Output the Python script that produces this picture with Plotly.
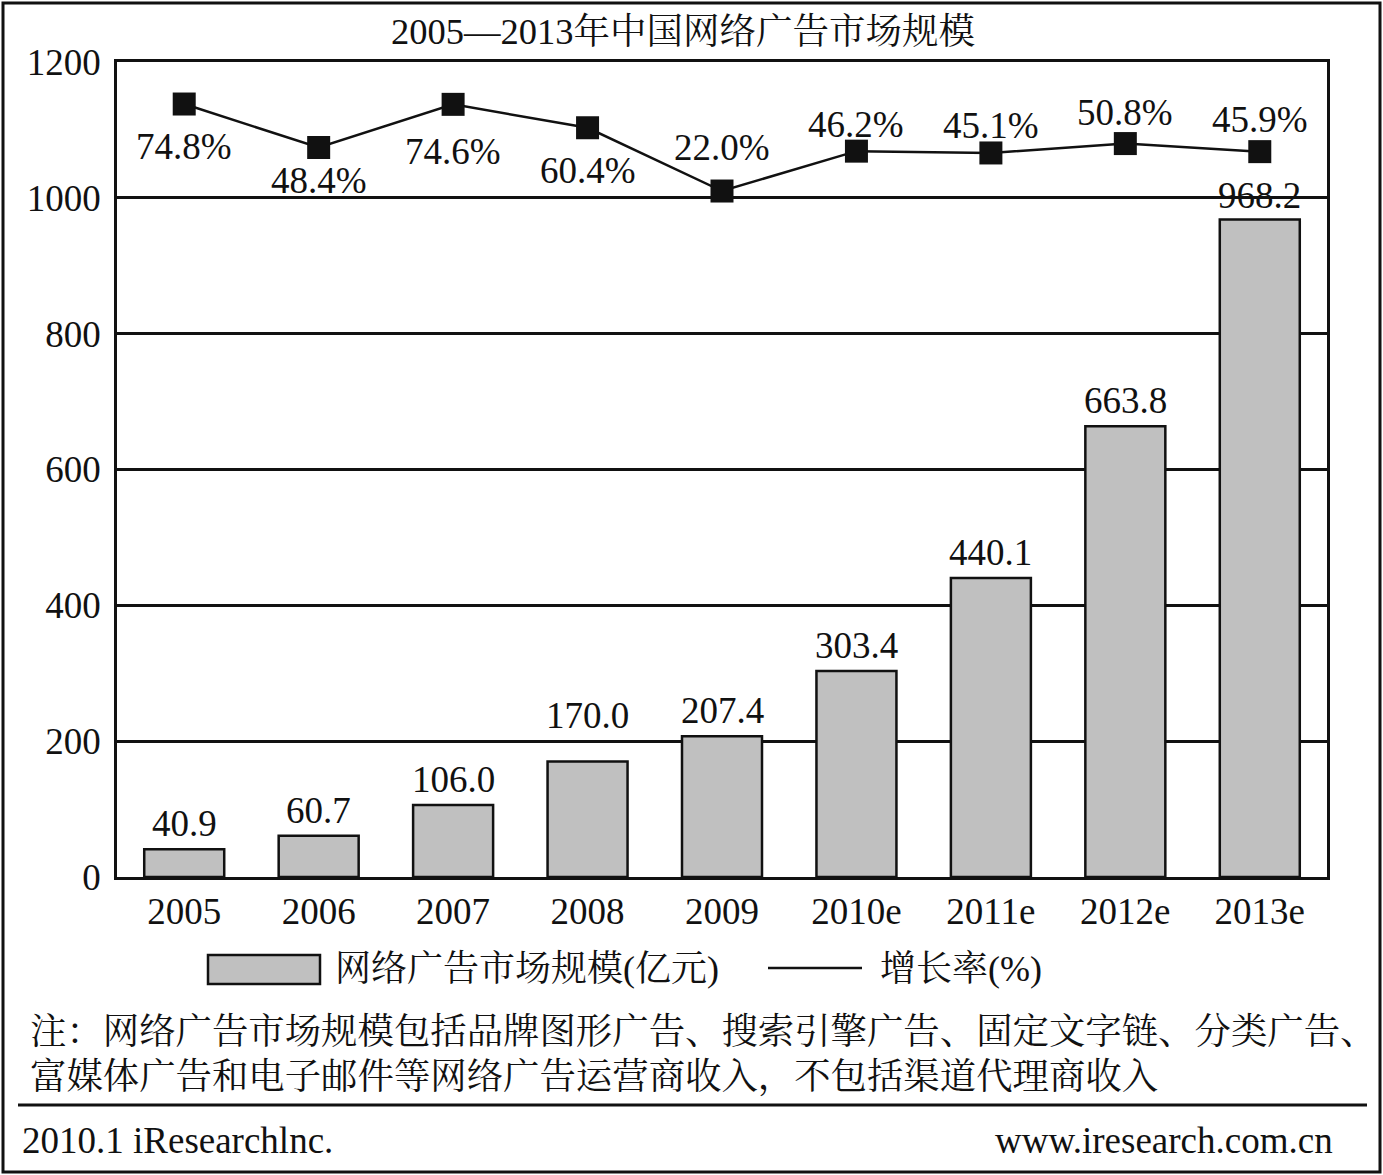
import plotly.graph_objects as go

# ---- data ----
categories = ["2005", "2006", "2007", "2008", "2009", "2010e", "2011e", "2012e", "2013e"]
market_size = [40.9, 60.7, 106.0, 170.0, 207.4, 303.4, 440.1, 663.8, 968.2]
growth_rate = [74.8, 48.4, 74.6, 60.4, 22.0, 46.2, 45.1, 50.8, 45.9]
y_ticks = [0, 200, 400, 600, 800, 1000, 1200]

# label offsets in pixels (positive = below the point for growth labels, above the bar for bar labels)
growth_label_dy = [42, 33, 47, 43, -44, -27, -27, -31, -32]
bar_label_dy = [3, 3, 3, 24, 3, 3, 3, 3, 1]

title_text = "2005—2013年中国网络广告市场规模"
legend_bar = "网络广告市场规模(亿元)"
legend_line = "增长率(%)"
note_lines = ["注：网络广告市场规模包括品牌图形广告、搜索引擎广告、固定文字链、分类广告、",
              "富媒体广告和电子邮件等网络广告运营商收入，不包括渠道代理商收入"]
footer_left = "2010.1 iResearchlnc."
footer_right = "www.iresearch.com.cn"

# ---- layout geometry (pixels) ----
W, H = 1383, 1175
L, R, T, B = 117, 1327, 62, 877
FONT = "Liberation Serif, 'Noto Serif CJK SC', 'Noto Sans CJK SC', serif"
FS = 37
INK = "#111111"


def px(X):
    return (X - L) / (R - L)


def py(Y):
    return (B - Y) / (B - T)


fig = go.Figure()
fig.add_trace(go.Bar(
    x=categories, y=market_size,
    marker=dict(color="#c0c0c0", line=dict(color=INK, width=2.5)),
    showlegend=False,
))
fig.add_trace(go.Scatter(
    x=categories, y=growth_rate, yaxis="y2",
    mode="lines+markers",
    line=dict(color=INK, width=2.5),
    marker=dict(symbol="square", size=23, color=INK),
    cliponaxis=False, showlegend=False,
))

ann = []
# on a category axis, annotation x is given as the category's index
for i, (v, dy) in enumerate(zip(market_size, bar_label_dy)):
    ann.append(dict(x=i, y=v, xref="x", yref="y", text=f"{v:.1f}", showarrow=False,
                    xanchor="center", yanchor="bottom", yshift=dy,
                    font=dict(size=FS, color=INK, family=FONT)))
for i, (v, dy) in enumerate(zip(growth_rate, growth_label_dy)):
    ann.append(dict(x=i, y=v, xref="x", yref="y2", text=f"{v:.1f}%", showarrow=False,
                    xanchor="center", yanchor="middle", yshift=-dy,
                    font=dict(size=FS, color=INK, family=FONT)))

shapes = [
    # outer border
    dict(type="rect", xref="paper", yref="paper", x0=px(3), x1=px(1380), y0=py(3), y1=py(1172),
         line=dict(color=INK, width=3)),
    # rule above footer
    dict(type="line", xref="paper", yref="paper", x0=px(18), x1=px(1367), y0=py(1105), y1=py(1105),
         line=dict(color=INK, width=3)),
    # legend bar swatch
    dict(type="rect", xref="paper", yref="paper", x0=px(208), x1=px(320), y0=py(955), y1=py(984),
         fillcolor="#c0c0c0", line=dict(color=INK, width=2.5)),
    # legend line swatch
    dict(type="line", xref="paper", yref="paper", x0=px(768), x1=px(862), y0=py(968), y1=py(968),
         line=dict(color=INK, width=2.5)),
]


def add_text(txt, X, Y, anchor="left", size=FS):
    ann.append(dict(text=txt, xref="paper", yref="paper", x=px(X), y=py(Y), xanchor=anchor,
                    yanchor="middle", showarrow=False,
                    font=dict(size=size, color=INK, family=FONT)))


add_text(title_text, 683, 32, "center", 36.5)
add_text(legend_bar, 333, 969, size=36)
add_text(legend_line, 878, 969, size=36)
add_text(note_lines[0], 28, 1032, size=36.4)
add_text(note_lines[1], 28, 1077, size=36.4)
add_text(footer_left, 20, 1140)
add_text(footer_right, 1335, 1140, "right")

fig.update_layout(
    width=W, height=H,
    margin=dict(l=L, r=W - R, t=T, b=H - B),
    paper_bgcolor="white", plot_bgcolor="white",
    font=dict(family=FONT, size=FS, color=INK),
    bargap=0.405,
    shapes=shapes, annotations=ann,
    xaxis=dict(type="category", range=[-0.5, len(categories) - 0.5], showline=True,
               linecolor=INK, linewidth=2.5, mirror=True,
               ticks="", tickfont=dict(size=FS), showgrid=False),
    yaxis=dict(range=[0, 1200], tickvals=y_ticks, showline=True, linecolor=INK,
               linewidth=2.5, mirror=True, showgrid=True, gridcolor=INK, gridwidth=2.5,
               ticks="", tickfont=dict(size=FS), zeroline=False, ticklabelstandoff=6),
    yaxis2=dict(range=[-394.3, 100.3], overlaying="y", visible=False),
)

fig.write_html("out.html", config={"displayModeBar": False},
               post_script="document.body.style.margin='0';document.body.style.overflow='hidden';")
